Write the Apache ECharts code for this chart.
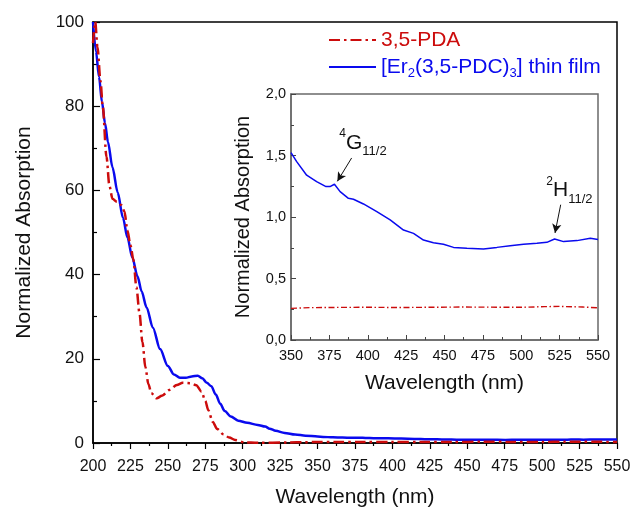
<!DOCTYPE html>
<html><head><meta charset="utf-8">
<script src="https://cdn.jsdelivr.net/npm/echarts@6/dist/echarts.min.js"></script>
<style>html,body{margin:0;padding:0;background:#fff}#c{width:634px;height:510px}</style>
</head><body><div id="c"></div>
<script>
// ---- data ----
const redUvX = [200, 201.5, 203, 205, 206.5, 209, 211, 213, 216, 219, 221, 223, 225, 227, 229, 231, 233, 235, 237, 239, 242.5, 246, 251, 256, 260, 265, 269, 272.5, 275, 277, 280, 283, 287, 291, 295, 301, 310, 330, 342];
const redUvY = [95, 100, 94, 86, 80, 68, 61, 58, 57.3, 56.5, 55, 50.5, 47, 43.5, 37, 31, 24, 18, 14, 11.8, 10.6, 11.2, 12.6, 13.8, 14.3, 14.2, 13.7, 12.2, 10, 7.8, 5, 3.3, 2.1, 1.3, 0.7, 0.15, 0.05, 0.1, 0.2];
const blueUvX = [200, 202, 204, 206, 208, 210, 213, 216.5, 220, 223, 226.3, 229.7, 232.5, 235.8, 240, 244.8, 250, 254, 258, 262, 266, 270, 273, 276, 279, 282, 285, 288, 292, 297, 303, 310, 315, 318, 322, 328, 335, 342];
const blueUvY = [100, 93, 87, 81, 76, 71.5, 65.5, 59.5, 53.5, 48.8, 44, 39.6, 36, 32.2, 27.4, 22.3, 18.3, 16.3, 15.5, 15.5, 15.8, 16, 15.4, 14.3, 13.5, 11.5, 9.3, 7.6, 6.3, 5.3, 4.8, 4.3, 3.9, 3.4, 2.9, 2.4, 2.0, 1.75];
const blueVisX = [350, 353.7, 360.2, 366.7, 372.8, 375.4, 378.3, 382, 387.4, 390.7, 397.2, 405.9, 414.6, 423.3, 429.8, 436.3, 442.8, 449.3, 455.9, 464.6, 475.4, 484.1, 492.8, 501.5, 510.2, 516.7, 521.7, 527.6, 536.3, 545, 550];
const blueVisY = [1.523, 1.45, 1.34, 1.287, 1.247, 1.247, 1.266, 1.206, 1.152, 1.144, 1.106, 1.043, 0.976, 0.894, 0.867, 0.813, 0.791, 0.778, 0.753, 0.745, 0.74, 0.753, 0.767, 0.778, 0.786, 0.794, 0.821, 0.80, 0.808, 0.827, 0.818];
const redVisX = [350, 362, 380, 400, 420, 440, 460, 480, 500, 515, 525, 540, 550];
const redVisY = [0.257, 0.263, 0.265, 0.266, 0.264, 0.266, 0.268, 0.267, 0.266, 0.271, 0.273, 0.268, 0.262];
const mainXTicks = [200, 550, 25];
const mainYTicks = [0, 100, 20];
const insetXTicks = [350, 550, 25];
const insetYTicks = [0, 2, 0.5];
const nameRed = '3,5-PDA';
const nameBlue = '[Er2(3,5-PDC)3] thin film';
const annotations = [
  { sup: '4', main: 'G', sub: '11/2', at: [396.9, 1.604], from: [389.5, 1.48], to: [380.2, 1.29] },
  { sup: '2', main: 'H', sub: '11/2', at: [531.4, 1.214], from: [525.7, 1.10], to: [522.0, 0.87] }
];

// ---- chart ----
const zip = (xs, ys) => xs.map((x, i) => [x, ys[i]]);
const RED = '#cc0c0c', BLUE = '#0a0aee';
const FONT = "'Liberation Sans', Arial, sans-serif";
const chart = echarts.init(document.getElementById('c'), null, { renderer: 'canvas' });
const comma = v => v.toFixed(1).replace('.', ',');

chart.setOption({
  animation: false,
  textStyle: { fontFamily: FONT, color: '#111' },
  grid: [
    { left: 93, right: 17, top: 22, bottom: 67, show: true, borderColor: '#000', borderWidth: 1.5, outerBoundsMode: 'none', containLabel: false },
    { left: 291, right: 36, top: 94, bottom: 170, show: true, borderColor: '#6a6a6a', borderWidth: 1.5, outerBoundsMode: 'none', containLabel: false }
  ],
  legend: {
    left: 328, top: 27, orient: 'vertical', padding: 0, itemGap: 1,
    itemWidth: 47, itemHeight: 14,
    itemStyle: { opacity: 0 },
    data: [
      { name: nameRed, textStyle: { color: RED } },
      { name: nameBlue, textStyle: { color: BLUE } }
    ],
    formatter: n => n === nameBlue ? '{n|[Er}{s|2}{n|(3,5-PDC)}{s|3}{n|] thin film}' : n,
    textStyle: {
      fontSize: 21, fontFamily: FONT, lineHeight: 26,
      rich: {
        n: { fontSize: 21, lineHeight: 26, color: BLUE, fontFamily: FONT },
        s: { fontSize: 13, lineHeight: 13, color: BLUE, verticalAlign: 'bottom', fontFamily: FONT }
      }
    }
  },
  xAxis: [
    {
      gridIndex: 0, type: 'value', min: mainXTicks[0], max: mainXTicks[1], interval: mainXTicks[2],
      name: 'Wavelength (nm)', nameLocation: 'middle', nameGap: 44,
      nameTextStyle: { fontSize: 21, color: '#111', fontFamily: FONT },
      axisLine: { show: true, onZero: false, lineStyle: { color: '#000', width: 1.5 } },
      axisTick: { show: true, inside: false, length: 6, lineStyle: { color: '#000', width: 1.2 } },
      minorTick: { show: true, splitNumber: 2, length: 3, lineStyle: { color: '#000', width: 1.2 } },
      splitLine: { show: false },
      axisLabel: { fontSize: 16, color: '#111', margin: 16, fontFamily: FONT }
    },
    {
      gridIndex: 1, type: 'value', min: insetXTicks[0], max: insetXTicks[1], interval: insetXTicks[2],
      name: 'Wavelength (nm)', nameLocation: 'middle', nameGap: 33,
      nameTextStyle: { fontSize: 21, color: '#111', fontFamily: FONT },
      axisLine: { show: true, onZero: false, lineStyle: { color: '#6a6a6a', width: 1.5 } },
      axisTick: { show: true, inside: true, length: 5, lineStyle: { color: '#444', width: 1 } },
      minorTick: { show: true, splitNumber: 2, length: 3, lineStyle: { color: '#444', width: 1 } },
      splitLine: { show: false },
      axisLabel: { fontSize: 14.5, color: '#111', margin: 8, fontFamily: FONT }
    }
  ],
  yAxis: [
    {
      gridIndex: 0, type: 'value', min: mainYTicks[0], max: mainYTicks[1], interval: mainYTicks[2],
      name: 'Normalized Absorption', nameLocation: 'middle', nameGap: 58,
      nameTextStyle: { fontSize: 21, color: '#111', fontFamily: FONT },
      axisLine: { show: true, onZero: false, lineStyle: { color: '#000', width: 1.5 } },
      axisTick: { show: true, inside: true, length: 7, lineStyle: { color: '#000', width: 1.2 } },
      minorTick: { show: true, splitNumber: 2, length: 4, lineStyle: { color: '#000', width: 1.2 } },
      splitLine: { show: false },
      axisLabel: { fontSize: 17, color: '#111', margin: 9, fontFamily: FONT }
    },
    {
      gridIndex: 1, type: 'value', min: insetYTicks[0], max: insetYTicks[1], interval: insetYTicks[2],
      name: 'Normalized Absorption', nameLocation: 'middle', nameGap: 38,
      nameTextStyle: { fontSize: 20, color: '#111', fontFamily: FONT },
      axisLine: { show: true, onZero: false, lineStyle: { color: '#6a6a6a', width: 1.5 } },
      axisTick: { show: true, inside: true, length: 5, lineStyle: { color: '#444', width: 1 } },
      minorTick: { show: true, splitNumber: 2, length: 3, lineStyle: { color: '#444', width: 1 } },
      splitLine: { show: false },
      axisLabel: { fontSize: 14.5, color: '#111', margin: 5, fontFamily: FONT, formatter: comma }
    }
  ],
  series: [
    {
      name: nameRed, type: 'line', xAxisIndex: 0, yAxisIndex: 0, showSymbol: false, symbol: 'none',
      smooth: 0.3, smoothMonotone: 'x',
      data: zip(redUvX, redUvY).concat(zip(redVisX, redVisY)),
      lineStyle: { color: RED, width: 2.5, type: [11, 4, 2.5, 4] }, itemStyle: { color: RED }, z: 3
    },
    {
      name: nameBlue, type: 'line', xAxisIndex: 0, yAxisIndex: 0, showSymbol: false, symbol: 'none',
      smooth: 0.3, smoothMonotone: 'x',
      data: zip(blueUvX, blueUvY).concat(zip(blueVisX, blueVisY)),
      lineStyle: { color: BLUE, width: 2.5 }, itemStyle: { color: BLUE }, z: 2
    },
    {
      name: 'inset-red', type: 'line', xAxisIndex: 1, yAxisIndex: 1, showSymbol: false, symbol: 'none',
      data: zip(redVisX, redVisY),
      lineStyle: { color: RED, width: 1.4, type: [6, 2.5, 1.5, 2.5] }
    },
    {
      name: 'inset-blue', type: 'line', xAxisIndex: 1, yAxisIndex: 1, showSymbol: false, symbol: 'none',
      data: zip(blueVisX, blueVisY),
      lineStyle: { color: BLUE, width: 1.5 },
      markLine: {
        silent: true, symbol: ['none', 'arrow'], symbolSize: [7, 9],
        lineStyle: { color: '#111', width: 1, type: 'solid' },
        label: { show: false },
        data: annotations.map(a => [{ coord: a.from }, { coord: a.to }])
      },
      markPoint: {
        silent: true, symbol: 'circle', symbolSize: 1, itemStyle: { color: 'rgba(0,0,0,0)' },
        label: {
          show: true, position: 'inside', color: '#111',
          rich: {
            b: { fontSize: 21, lineHeight: 30, color: '#111', fontFamily: FONT },
            sup: { fontSize: 12, lineHeight: 20, verticalAlign: 'top', color: '#111', fontFamily: FONT },
            sub: { fontSize: 13, lineHeight: 10, verticalAlign: 'bottom', color: '#111', fontFamily: FONT }
          }
        },
        data: annotations.map(a => ({
          coord: a.at, value: 0,
          label: { formatter: '{sup|' + a.sup + '}{b|' + a.main + '}{sub|' + a.sub + '}' }
        }))
      }
    }
  ]
});
</script>
</body></html>
